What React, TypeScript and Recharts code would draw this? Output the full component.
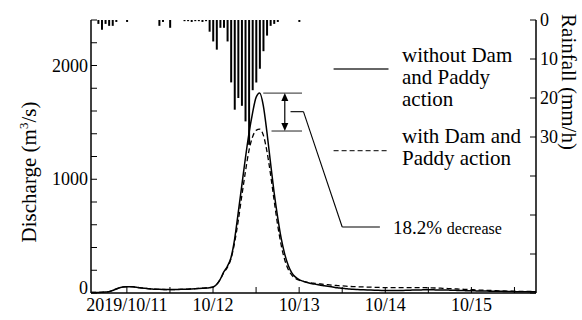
import React from 'react';
import { ComposedChart, Bar, Line, XAxis, YAxis, ReferenceLine } from 'recharts';

// hourly values, hour 0 = 2019/10/10 14:00
const withoutDam = [
  5, 5, 5, 6, 8, 12, 22, 35, 46, 53, 56, 56, 53, 49, 45, 41, 38, 35, 33, 32,
  31, 30, 30, 30, 31, 32, 33, 34, 36, 38, 40, 42, 44, 47, 52, 75, 120, 185, 235, 310,
  470, 700, 940, 1180, 1400, 1580, 1720, 1758, 1650, 1420, 1150, 890, 670, 480, 340, 240, 175, 140, 118, 104,
  94, 86, 80, 74, 69, 64, 59, 54, 49, 45, 41, 38, 35, 33, 31, 29, 28, 27, 26, 25,
  24, 23, 22, 22, 22, 22, 23, 23, 24, 25, 26, 27, 27, 28, 28, 28, 27, 27, 26, 26,
  25, 24, 23, 22, 21, 20, 20, 19, 18, 18, 17, 16, 16, 15, 15, 14, 14, 13, 12, 12,
  11, 11, 10, 10, 10,
];
const withDam = [
  5, 5, 5, 6, 8, 12, 22, 35, 46, 53, 56, 56, 53, 49, 45, 41, 38, 35, 33, 32,
  31, 30, 30, 30, 31, 32, 33, 34, 36, 38, 40, 42, 44, 47, 52, 75, 118, 180, 225, 300,
  440, 630, 850, 1060, 1250, 1370, 1430, 1440, 1390, 1250, 1050, 820, 600, 420, 290, 205, 155, 128, 112, 102,
  95, 90, 86, 82, 79, 76, 73, 70, 67, 64, 62, 60, 58, 56, 55, 54, 53, 52, 51, 50,
  49, 48, 48, 48, 48, 48, 48, 48, 48, 48, 48, 48, 48, 47, 46, 45, 44, 43, 41, 40,
  38, 37, 35, 34, 32, 31, 29, 28, 26, 25, 24, 23, 21, 20, 19, 18, 17, 17, 16, 15,
  14, 14, 13, 13, 12,
];
const rainfall = [
  0, 0, 1, 2.5, 1, 1.5, 1.5, 0.5, 0, 0, 0.5, 0, 0, 0, 0, 0, 0, 0, 0, 1.5,
  0.5, 0, 2, 0, 0, 0, 0.3, 0.3, 0.5, 0.3, 0.3, 0.5, 0.3, 3, 5.5, 7.6, 2, 2, 5.5, 16,
  23, 20, 22, 26, 32, 18, 16, 12.5, 8, 4, 1.5, 1, 0.5, 0, 0, 0, 0, 0, 0.5, 0,
  0, 0, 0, 0, 0, 0, 0, 0, 0, 0, 0, 0, 0, 0, 0, 0, 0, 0, 0, 0,
  0, 0, 0, 0, 0, 0, 0, 0, 0, 0, 0, 0, 0, 0, 0, 0, 0, 0, 0, 0,
  0, 0, 0, 0, 0, 0, 0, 0, 0, 0, 0, 0, 0, 0, 0, 0, 0, 0, 0, 0,
  0, 0, 0, 0, 0,
];

const tickHours = [10, 22, 34, 46, 58, 70, 82, 94, 106, 118];
const tickLabels = ['2019/10/11', '', '10/12', '', '10/13', '', '10/14', '', '10/15', ''];
const dischargeTicks = [0, 200, 400, 600, 800, 1000, 1200, 1400, 1600, 1800, 2000, 2200, 2400];
const rainTicks = [0, 10, 20, 30, 40, 50, 60, 70];

const data = withoutDam.map((q, i) => ({
  hour: i,
  without: q,
  with: withDam[i],
  rain: rainfall[i],
}));

const FONT = '"Liberation Serif", "Times New Roman", serif';
const GAP = 8; // tickSize 6 + tickMargin 2, undone in the custom ticks

const BottomTick = ({ x, y, payload }: any) => {
  const base = y - GAP;
  const i = tickHours.indexOf(payload.value);
  const label = tickLabels[i];
  return (
    <g>
      <line x1={x} x2={x} y1={base} y2={base - 6} stroke="#000" />
      {label ? (
        <text x={x} y={base + 18} textAnchor="middle" fontFamily={FONT} fontSize={18} fill="#000">
          {label}
        </text>
      ) : null}
    </g>
  );
};

const TopTick = ({ x, y }: any) => {
  const base = y + GAP;
  return <line x1={x} x2={x} y1={base} y2={base + 6} stroke="#000" />;
};

const LeftTick = ({ x, y, payload }: any) => {
  const base = x + GAP;
  return (
    <g>
      <line x1={base} x2={base + 6} y1={y} y2={y} stroke="#000" />
      {payload.value % 1000 === 0 ? (
        <text x={base - 3} y={y + (payload.value === 0 ? 1 : 6)} textAnchor="end" fontFamily={FONT} fontSize={18} fill="#000">
          {payload.value}
        </text>
      ) : null}
    </g>
  );
};

const RightTick = ({ x, y, payload }: any) => {
  const base = x - GAP;
  return (
    <g>
      <line x1={base} x2={base - 6} y1={y} y2={y} stroke="#000" />
      {payload.value <= 30 ? (
        <text x={base + 4} y={y + 6} textAnchor="start" fontFamily={FONT} fontSize={18} fill="#000">
          {payload.value}
        </text>
      ) : null}
    </g>
  );
};

const DoubleArrow = ({ x1, y1, x2, y2 }: any) => {
  const top = Math.min(y1, y2);
  const bottom = Math.max(y1, y2);
  return (
    <g>
      <line x1={x1} x2={x2} y1={top + 6} y2={bottom - 6} stroke="#000" strokeWidth={1.2} />
      <polygon points={`${x1},${top} ${x1 - 3.5},${top + 8} ${x1 + 3.5},${top + 8}`} fill="#000" />
      <polygon points={`${x1},${bottom} ${x1 - 3.5},${bottom - 8} ${x1 + 3.5},${bottom - 8}`} fill="#000" />
    </g>
  );
};

const seg = (x1: number, y1: number, x2: number, y2: number) => [
  { x: x1, y: y1 },
  { x: x2, y: y2 },
];

const txt = { fontFamily: FONT, fontSize: 21, fill: '#000' };

export default function App() {
  return (
    <div style={{ position: 'absolute', left: 0, top: 0, width: 582, height: 320, background: '#fff' }}>
      <ComposedChart width={582} height={320} data={data} margin={{ top: 20, right: 6, bottom: 0, left: 31 }}>
        <XAxis
          xAxisId="b"
          dataKey="hour"
          type="number"
          domain={[0, 124]}
          ticks={tickHours}
          interval={0}
          height={27}
          tickLine={false}
          tickSize={6}
          tickMargin={2}
          axisLine={{ stroke: '#000', strokeWidth: 1.5 }}
          tick={<BottomTick />}
        />
        <XAxis
          xAxisId="t"
          orientation="top"
          dataKey="hour"
          type="number"
          domain={[0, 124]}
          ticks={tickHours}
          interval={0}
          height={0}
          tickLine={false}
          tickSize={6}
          tickMargin={2}
          axisLine={{ stroke: '#000', strokeWidth: 1.5 }}
          tick={<TopTick />}
        />
        <YAxis
          yAxisId="q"
          domain={[0, 2400]}
          ticks={dischargeTicks}
          interval={0}
          width={60}
          tickLine={false}
          tickSize={6}
          tickMargin={2}
          axisLine={{ stroke: '#000', strokeWidth: 1.5 }}
          tick={<LeftTick />}
        />
        <YAxis
          yAxisId="rain"
          orientation="right"
          domain={[0, 70]}
          reversed
          ticks={rainTicks}
          interval={0}
          width={40}
          tickLine={false}
          tickSize={6}
          tickMargin={2}
          axisLine={{ stroke: '#000', strokeWidth: 1.5 }}
          tick={<RightTick />}
        />
        <Bar xAxisId="b" yAxisId="rain" dataKey="rain" fill="#000" barSize={2} isAnimationActive={false} />
        <Line xAxisId="b" yAxisId="q" type="monotone" dataKey="without" stroke="#000" strokeWidth={1.5} dot={false} isAnimationActive={false} />
        <Line xAxisId="b" yAxisId="q" type="monotone" dataKey="with" stroke="#000" strokeWidth={1.3} strokeDasharray="5 3" dot={false} isAnimationActive={false} />

        {/* peak markers and reduction arrow */}
        <ReferenceLine xAxisId="b" yAxisId="q" segment={seg(48, 1758, 58.8, 1758)} stroke="#555" strokeWidth={1.3} ifOverflow="visible" />
        <ReferenceLine xAxisId="b" yAxisId="q" segment={seg(50.3, 1424, 58.8, 1424)} stroke="#555" strokeWidth={1.3} ifOverflow="visible" />
        <ReferenceLine xAxisId="b" yAxisId="q" segment={seg(54, 1424, 54, 1758)} shape={<DoubleArrow />} ifOverflow="visible" />
        {/* leader to the label */}
        <ReferenceLine xAxisId="b" yAxisId="q" segment={seg(55.6, 1594, 59.2, 1594)} stroke="#000" strokeWidth={1.1} ifOverflow="visible" />
        <ReferenceLine xAxisId="b" yAxisId="q" segment={seg(59.2, 1594, 70, 580)} stroke="#000" strokeWidth={1.1} ifOverflow="visible" />
        <ReferenceLine xAxisId="b" yAxisId="q" segment={seg(70, 580, 80.5, 580)} stroke="#000" strokeWidth={1.1} ifOverflow="visible" />
        {/* legend samples */}
        <ReferenceLine xAxisId="b" yAxisId="q" segment={seg(67.6, 1969, 82.9, 1969)} stroke="#333" strokeWidth={1.5} ifOverflow="visible" />
        <ReferenceLine xAxisId="b" yAxisId="q" segment={seg(67.6, 1251, 82.9, 1251)} stroke="#333" strokeWidth={1.3} strokeDasharray="5 3" ifOverflow="visible" />
      </ComposedChart>

      <svg width={582} height={320} style={{ position: 'absolute', left: 0, top: 0, pointerEvents: 'none' }}>
        <text {...txt} x={402} y={62}>without Dam</text>
        <text {...txt} x={402} y={84}>and Paddy</text>
        <text {...txt} x={402} y={106}>action</text>
        <text {...txt} x={402} y={143}>with Dam and</text>
        <text {...txt} x={402} y={165}>Paddy action</text>
        <text fontFamily={FONT} fill="#000" x={393} y={234}>
          <tspan fontSize={19}>18.2% </tspan>
          <tspan fontSize={16}>decrease</tspan>
        </text>
        <text {...txt} transform="translate(36 172) rotate(-90)" textAnchor="middle">
          Discharge (m<tspan fontSize={13} dy={-8}>3</tspan>
          <tspan dy={8}>/s)</tspan>
        </text>
        <text {...txt} transform="translate(562 82) rotate(90)" textAnchor="middle">
          Rainfall (mm/h)
        </text>
      </svg>
    </div>
  );
}
